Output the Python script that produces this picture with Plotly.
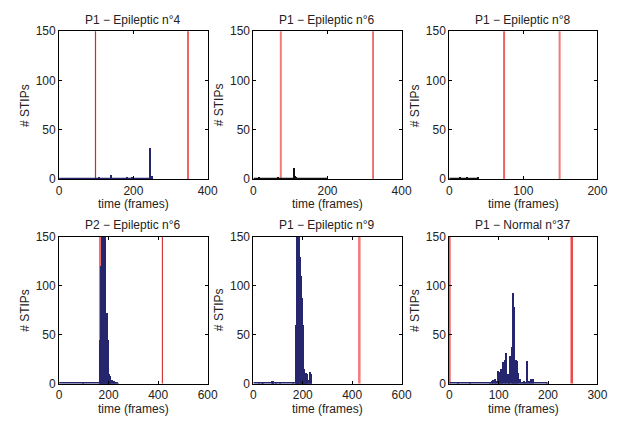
import plotly.graph_objects as go
from plotly.subplots import make_subplots

# ---- data ----
titles = [
    "P1 − Epileptic n°4",
    "P1 − Epileptic n°6",
    "P1 − Epileptic n°8",
    "P2 − Epileptic n°6",
    "P1 − Epileptic n°9",
    "P1 − Normal n°37",
]

x_max = [400, 400, 200, 600, 600, 300]
x_ticks = [
    [0, 200, 400],
    [0, 200, 400],
    [0, 100, 200],
    [0, 200, 400, 600],
    [0, 200, 400, 600],
    [0, 100, 200, 300],
]
y_ticks = [0, 50, 100, 150]

# seizure onset / offset markers (frames)
onset_frames = [98, 74, 74, 167, 178, 0]
offset_frames = [347, 323, 149, 417, 429, 248]

# STIP counts per frame (only non-zero frames kept)
frames_p1_e4 = [109, 140, 183, 197, 247, 250]
stips_p1_e4 = [2, 4, 2.5, 1, 31, 3]

frames_p1_e6 = [18, 68, 111, 115, 118, 199]
stips_p1_e6 = [1, 1, 11, 3, 2, 0.5]

frames_p1_e8 = [15, 25, 40]
stips_p1_e8 = [1.5, 1.5, 1.5]

frames_p2_e6 = [96, 165, 168, 170, 172, 174, 176, 178, 180, 182, 184, 186, 188,
                190, 192, 194, 196, 198, 200, 202, 204, 206, 208, 210, 214, 218,
                222, 226, 232, 238]
stips_p2_e6 = [2, 3, 45, 85, 120, 160, 165, 155, 130, 110, 160, 150, 95,
               50, 30, 72, 70, 45, 20, 10, 5, 8, 7, 3, 4, 2,
               3, 2, 2, 1]

frames_p1_e9 = [24, 37, 43, 76, 80, 83, 96, 109, 162, 174, 176, 178, 180, 182,
                184, 186, 188, 190, 192, 194, 196, 198, 200, 202, 204, 206, 208,
                210, 212, 214, 216, 218, 220, 224, 228, 232, 234, 236]
stips_p1_e9 = [2, 2, 2, 3, 3, 3, 2, 2, 1, 20, 60, 110, 160, 165,
               160, 140, 150, 130, 125, 110, 90, 88, 86, 60, 20, 15, 5,
               8, 3, 11, 2, 6, 10, 3, 4, 12, 10, 2]

frames_p1_n37 = [19, 42, 84, 87, 90, 93, 96, 99, 101, 104, 106, 108, 110, 113,
                 116, 119, 122, 125, 128, 130, 132, 134, 136, 138, 141, 145,
                 149, 152, 155, 159, 162, 166, 171, 199]
stips_p1_n37 = [2, 2, 2, 3, 4, 5, 3, 13, 12, 8, 15, 14, 22, 25,
                32, 10, 5, 29, 38, 93, 79, 20, 25, 23, 11, 5,
                2, 3, 2, 23, 3, 5, 5, 1]

all_frames = [frames_p1_e4, frames_p1_e6, frames_p1_e8,
              frames_p2_e6, frames_p1_e9, frames_p1_n37]
all_stips = [stips_p1_e4, stips_p1_e6, stips_p1_e8,
             stips_p2_e6, stips_p1_e9, stips_p1_n37]

# ---- styles ----
NAVY = "#26266e"
bar_colors = [NAVY, "#111111", "#111111", NAVY, NAVY, NAVY]
onset_styles = [("#ee1c1c", 1.2), ("#f07c7c", 2), ("#f26262", 2),
                ("#f07070", 3), ("#dd1a1a", 1.2), ("#ee2a2a", 2.5)]
offset_styles = [("#f26262", 2), ("#dd1a1a", 1.2), ("#f27a7a", 2),
                 ("#cc1a1a", 1), ("#f27a7a", 2.5), ("#f04848", 2.5)]
FONT = "Liberation Sans, Arial, Helvetica, sans-serif"
TEXT = dict(family=FONT, size=12, color="#222")
W, H = 627, 426

col_px = [(57.3, 209.0), (255.7, 407.0), (455.7, 607.0)]
row_px = [(25.0, 178.0), (237.3, 389.3)]

fig = make_subplots(rows=2, cols=3)
annotations = []

for i in range(6):
    r, c = divmod(i, 3)
    xs = all_frames[i]
    ys = all_stips[i]
    bw = x_max[i] / 100

    # baseline of the bar series (half hidden under the axis line)
    fig.add_trace(
        go.Scatter(x=[0, max(xs)], y=[0, 0], mode="lines",
                   line=dict(color=bar_colors[i], width=3), hoverinfo="skip"),
        row=r + 1, col=c + 1,
    )
    fig.add_trace(
        go.Bar(x=xs, y=ys, width=[bw] * len(xs), marker_color=bar_colors[i],
               marker_line_width=0),
        row=r + 1, col=c + 1,
    )
    col, lw = onset_styles[i]
    fig.add_vline(x=onset_frames[i], line_color=col, line_width=lw,
                  layer="below", row=r + 1, col=c + 1)
    col, lw = offset_styles[i]
    fig.add_vline(x=offset_frames[i], line_color=col, line_width=lw,
                  layer="below", row=r + 1, col=c + 1)

    x0, x1 = col_px[c]
    y0, y1 = row_px[r]
    axis_common = dict(
        showgrid=False, zeroline=False, showline=True, linecolor="black",
        linewidth=1, mirror="ticks", ticks="inside", ticklen=3,
        tickcolor="black", tickfont=TEXT,
    )
    fig.update_xaxes(
        range=[0, x_max[i]], tickvals=x_ticks[i],
        domain=[x0 / W, x1 / W], row=r + 1, col=c + 1, **axis_common,
    )
    fig.update_yaxes(
        range=[0, 150], tickvals=y_ticks,
        domain=[1 - y1 / H, 1 - y0 / H], row=r + 1, col=c + 1, **axis_common,
    )

    xc = (x0 + x1) / 2 / W
    label = dict(xref="paper", yref="paper", showarrow=False,
                 xanchor="center", yanchor="middle", font=TEXT)
    annotations.append(dict(text=titles[i], x=xc, y=1 - (y0 - 12) / H, **label))
    annotations.append(dict(text="time (frames)", x=xc,
                            y=1 - (y1 + 26) / H, **label))
    annotations.append(dict(text="# STIPs", x=(x0 - 35) / W,
                            y=1 - (y0 + y1) / 2 / H, textangle=-90, **label))

fig.update_layout(
    width=W, height=H, margin=dict(l=0, r=0, t=0, b=0),
    paper_bgcolor="white", plot_bgcolor="white", showlegend=False,
    barmode="overlay", bargap=0, annotations=annotations,
)

fig.write_html("out.html", config={"displayModeBar": False},
               post_script="document.body.style.margin='0';")
